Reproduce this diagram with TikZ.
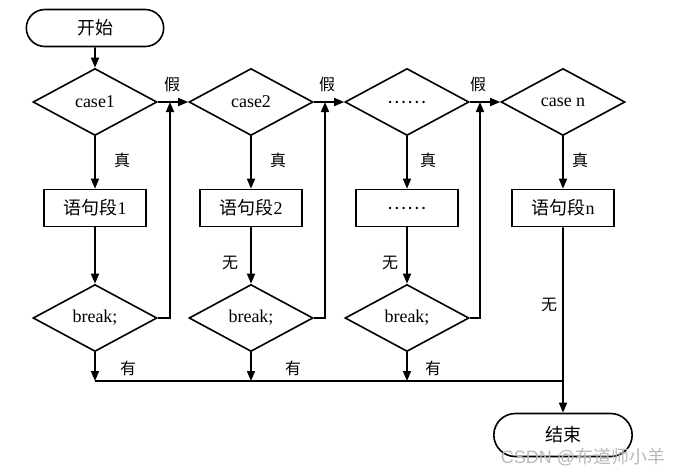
\documentclass[tikz,border=0pt]{standalone}
\usepackage{fontspec}
\setmainfont{Liberation Serif}
\newfontfamily\cjk{Noto Sans CJK SC}
\newfontfamily\wmfont{Liberation Sans}
\usetikzlibrary{shapes.geometric,shapes.misc,arrows.meta}

\tikzset{
    term/.style={rounded rectangle,draw=black,minimum width=144pt,minimum height=37pt},
    cond/.style={diamond,draw=black,aspect=2,inner sep=0pt,minimum width=124pt,minimum height=67pt},
    stmt/.style={rectangle,draw=black,minimum width=102pt,minimum height=37pt},
    lbl/.style={font=\cjk\fontsize{16}{18}\selectfont}
}

\begin{document}
\begin{tikzpicture}[x=1pt,y=-1pt,line width=1.6pt,font=\fontsize{18}{21}\selectfont,
    >={Triangle[length=10pt,width=8pt]}]
    \useasboundingbox (0,0) rectangle (685,475);

    \node[term] (start) at (95,28) {\cjk 开始};
    \node[cond] (c1) at (95,102) {case1};
    \node[cond] (c2) at (251,102) {case2};
    \node[cond] (c3) at (407,102) {\cjk ……};
    \node[cond] (cn) at (563,102) {case n};

    \node[stmt] (s1) at (95,208) {{\cjk 语句段}1};
    \node[stmt] (s2) at (251,208) {{\cjk 语句段}2};
    \node[stmt] (s3) at (407,208) {\cjk ……};
    \node[stmt] (sn) at (563,208) {{\cjk 语句段}n};

    \node[cond] (b1) at (95,318) {break;};
    \node[cond] (b2) at (251,318) {break;};
    \node[cond] (b3) at (407,318) {break;};

    \node[term,minimum width=145pt,minimum height=43pt] (end) at (563,435) {\cjk 结束};

    \coordinate (r1) at (170,102);
    \coordinate (r2) at (325,102);
    \coordinate (r3) at (480,102);
    \coordinate (j1) at (95,381);
    \coordinate (j2) at (251,381);
    \coordinate (j3) at (407,381);
    \coordinate (jn) at (563,381);

    % labels
    \node[lbl] (f1) at (172,84) {假};
    \node[lbl] (f2) at (327,84) {假};
    \node[lbl] (f3) at (478,84) {假};
    \node[lbl] (t1) at (122,160) {真};
    \node[lbl] (t2) at (278,160) {真};
    \node[lbl] (t3) at (428,160) {真};
    \node[lbl] (tn) at (580,160) {真};
    \node[lbl] (n2) at (230,263) {无};
    \node[lbl] (n3) at (390,263) {无};
    \node[lbl] (nn) at (549,305) {无};
    \node[lbl] (y1) at (128,368) {有};
    \node[lbl] (y2) at (293,368) {有};
    \node[lbl] (y3) at (433,368) {有};

    \draw[->] (start) to (c1);
    \draw[->] (c1) to (c2);
    \draw[->] (c2) to (c3);
    \draw[->] (c3) to (cn);
    \draw[->] (c1) to (s1);
    \draw[->] (c2) to (s2);
    \draw[->] (c3) to (s3);
    \draw[->] (cn) to (sn);
    \draw[->] (s1) to (b1);
    \draw[->] (s2) to (b2);
    \draw[->] (s3) to (b3);
    \draw[->] (b1.east) -| (r1);
    \draw[->] (b2.east) -| (r2);
    \draw[->] (b3.east) -| (r3);
    \draw[->] (b1) to (j1);
    \draw[->] (b2) to (j2);
    \draw[->] (b3) to (j3);
    \draw (j1) to (jn);
    \draw[->] (sn) to (end);

    \node[text=gray!55,font=\wmfont\fontsize{18}{20}\selectfont] (wm) at (583,457) {CSDN @{\cjk 布道师小羊}};
\end{tikzpicture}
\end{document}
